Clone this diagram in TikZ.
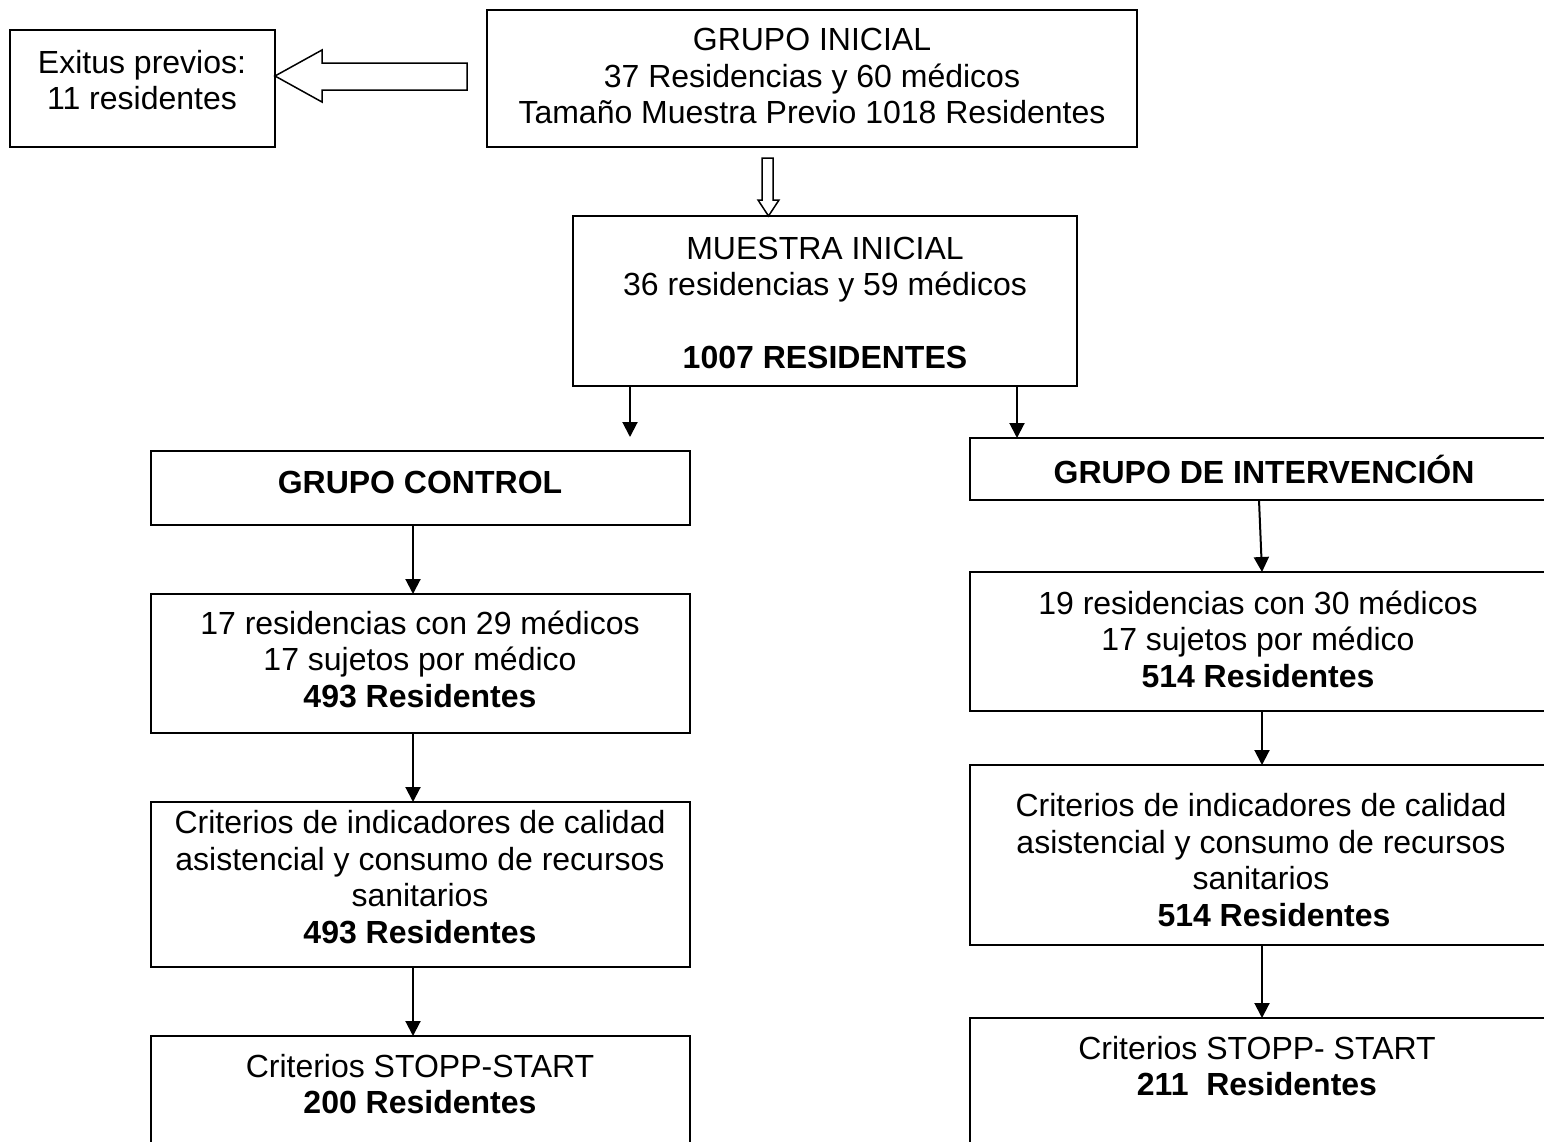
\documentclass[tikz,border=0pt]{standalone}
\usepackage{fontspec}
\setmainfont{Liberation Sans}
\usetikzlibrary{arrows.meta,calc}
\begin{document}
\begin{tikzpicture}[x=1pt,y=-1pt,
  boxnode/.style={draw, line width=1.7pt, inner sep=0pt, outer sep=0pt, anchor=north west},
  txt/.style={inner sep=0pt, align=center, font=\fontsize{32}{36.6}\selectfont},
  arr/.style={line width=2pt, -{Triangle[width=15pt,length=15pt]}},
  hollow/.style={draw, line width=1.5pt, fill=white, line join=miter}]
\useasboundingbox (0,0) rectangle (1544,1141);
% boxes
\node[boxnode, minimum width=265pt, minimum height=117pt] (exitus) at (10,30) {};
\node[boxnode, minimum width=650pt, minimum height=137pt] (inicial) at (487,10) {};
\node[boxnode, minimum width=504pt, minimum height=170pt] (muestra) at (573,216) {};
\node[boxnode, minimum width=539pt, minimum height=74pt] (control) at (151,451) {};
\node[boxnode, minimum width=582pt, minimum height=62pt] (interv) at (970,438) {};
\node[boxnode, minimum width=539pt, minimum height=139pt] (ctwo) at (151,594) {};
\node[boxnode, minimum width=582pt, minimum height=139pt] (rtwo) at (970,572) {};
\node[boxnode, minimum width=539pt, minimum height=165pt] (cthree) at (151,802) {};
\node[boxnode, minimum width=582pt, minimum height=180pt] (rthree) at (970,765) {};
\node[boxnode, minimum width=539pt, minimum height=150pt] (cfour) at (151,1036) {};
\node[boxnode, minimum width=582pt, minimum height=170pt] (rfour) at (970,1018) {};
% texts
\node[txt] (texitus) at (142,80) {Exitus previos:\\11 residentes};
\node[txt] (tinicial) at (812,76) {GRUPO INICIAL\\37 Residencias y 60 médicos\\Tamaño Muestra Previo 1018 Residentes};
\node[txt] (tmuestra) at (825,303) {MUESTRA INICIAL\\36 residencias y 59 médicos\\[36.6pt]\textbf{1007 RESIDENTES}};
\node[txt] (tcontrol) at (420,482) {\textbf{GRUPO CONTROL}};
\node[txt] (tinterv) at (1264,469) {\textbf{GRUPO DE INTERVENCIÓN}};
\node[txt] (tctwo) at (420,659) {17 residencias con 29 médicos\\17 sujetos por médico\\\textbf{493 Residentes}};
\node[txt] (trtwo) at (1258,639) {19 residencias con 30 médicos\\17 sujetos por médico\\\textbf{514 Residentes}};
\node[txt] (tcthree) at (420,877) {Criterios de indicadores de calidad\\asistencial y consumo de recursos\\sanitarios\\\textbf{493 Residentes}};
\node[txt] (trthree) at (1261,860) {Criterios de indicadores de calidad\\asistencial y consumo de recursos\\sanitarios\\\hspace*{26pt}\textbf{514 Residentes}};
\node[txt] (tcfour) at (420,1084) {Criterios STOPP-START\\\textbf{200 Residentes}};
\node[txt] (trfour) at (1257,1066) {Criterios STOPP- START\\\textbf{211\ \ Residentes}};
% hollow arrows
\draw[hollow] (467,63) -- (322,63) -- (322,50) -- (exitus.east |- 0,76) -- (322,102) -- (322,90) -- (467,90) -- cycle;
\draw[hollow] (762,158) -- (762,200) -- (758,200) -- (muestra.north -| 768.5,0) -- (779,200) -- (773,200) -- (773,158) -- cycle;
% connectors
\coordinate (ctip) at (630,437);
\coordinate (rx) at (1017,0);
\coordinate (cx) at (413,0);
\coordinate (ra) at (1259,0);
\coordinate (rb) at (1262,0);
\draw[arr] (muestra.south -| ctip) -- (ctip);
\draw[arr] (muestra.south -| rx) -- (interv.north -| rx);
\draw[arr] (control.south -| cx) -- (ctwo.north -| cx);
\draw[arr] (ctwo.south -| cx) -- (cthree.north -| cx);
\draw[arr] (cthree.south -| cx) -- (cfour.north -| cx);
\draw[arr] (interv.south -| ra) -- (rtwo.north -| rb);
\draw[arr] (rtwo.south -| rb) -- (rthree.north -| rb);
\draw[arr] (rthree.south -| rb) -- (rfour.north -| rb);
\end{tikzpicture}
\end{document}
